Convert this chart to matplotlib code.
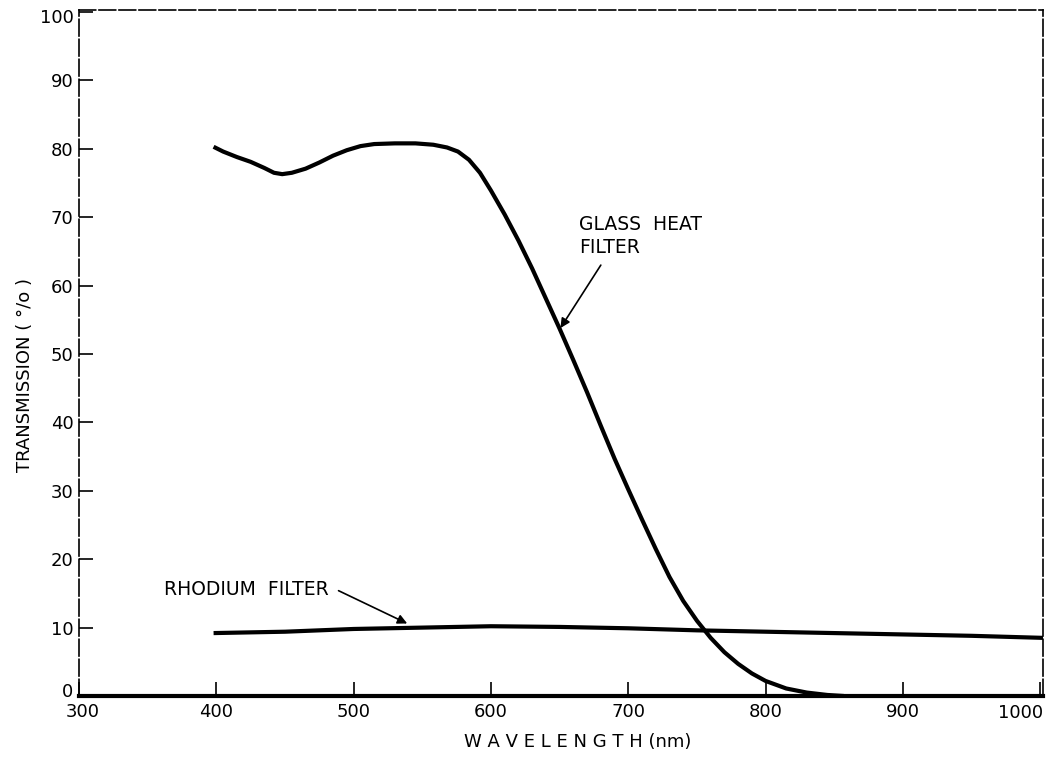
import matplotlib
matplotlib.use("Agg")
import matplotlib.pyplot as plt
import matplotlib.transforms as mtransforms

glass_wl = [398, 405, 415, 425, 435, 442, 448, 455, 465, 475, 485, 495, 505, 515, 530,
            545, 558, 568, 576, 584, 592, 600, 610, 620, 630, 640, 650, 660, 670, 680,
            690, 700, 710, 720, 730, 740, 750, 760, 770, 780, 790, 800, 815, 830, 845, 857]
glass_tr = [80.3, 79.6, 78.8, 78.1, 77.2, 76.5, 76.3, 76.5, 77.1, 78.0, 79.0, 79.8, 80.4,
            80.7, 80.8, 80.8, 80.6, 80.2, 79.6, 78.4, 76.5, 73.9, 70.4, 66.6, 62.5, 58.1,
            53.7, 49.1, 44.4, 39.5, 34.7, 30.2, 25.8, 21.5, 17.4, 13.9, 11.0, 8.5, 6.4,
            4.7, 3.3, 2.2, 1.1, 0.5, 0.15, 0.0]

rh_wl = [398, 450, 500, 550, 600, 650, 700, 750, 800, 850, 900, 950, 1002]
rh_tr = [9.2, 9.4, 9.8, 10.0, 10.2, 10.1, 9.9, 9.6, 9.4, 9.2, 9.0, 8.8, 8.5]

xticks = [300, 400, 500, 600, 700, 800, 900, 1000]
xtick_labels = ["300", "400", "500", "600", "700", "800", "900", ""]
yticks = [0, 10, 20, 30, 40, 50, 60, 70, 80, 90, 100]

W, H = 1051, 757
fig = plt.figure(figsize=(W / 100, H / 100), dpi=100)
ax = fig.add_axes([79 / W, 1 - 696 / H, (1043 - 79) / W, (696 - 10) / H])

ax.plot(glass_wl, glass_tr, color="black", lw=3, solid_capstyle="butt",
        solid_joinstyle="round")
ax.plot(rh_wl, rh_tr, color="black", lw=3, solid_capstyle="butt")

ax.set_xlim(300, 1002)
ax.set_ylim(0, 100.3)
ax.set_xticks(xticks)
ax.set_xticklabels(xtick_labels)
ax.set_yticks(yticks)
ax.tick_params(direction="in", length=10, width=1.2, labelsize=13, pad=5)
ax.tick_params(axis="y", pad=4)

for s in ["top", "right", "left"]:
    ax.spines[s].set_linewidth(1.2)
    ax.spines[s].set_linestyle((0, (10, 2)))
ax.spines["bottom"].set_linewidth(3)

fig.canvas.draw()
xl = ax.get_xticklabels()
xl[0].set_transform(xl[0].get_transform() +
                    mtransforms.ScaledTranslation(4 / 100, 0, fig.dpi_scale_trans))
yl = ax.get_yticklabels()
yl[0].set_transform(yl[0].get_transform() +
                    mtransforms.ScaledTranslation(0, 6 / 100, fig.dpi_scale_trans))
yl[-1].set_transform(yl[-1].get_transform() +
                     mtransforms.ScaledTranslation(0, -4 / 100, fig.dpi_scale_trans))

# last x tick label, right-aligned with the right spine
fig.text(1043 / W, 1 - 713 / H, str(xticks[-1]), fontsize=13, ha="right", va="center")

fig.text(578 / W, 1 - 742 / H, "W A V E L E N G T H (nm)", fontsize=13,
         ha="center", va="center")
fig.text(25 / W, 1 - 375 / H, "TRANSMISSION ( °/o )", fontsize=13,
         ha="center", va="center", rotation=90)

ax.text(664.4, 67.3, "GLASS  HEAT\nFILTER", fontsize=13.5, va="center", ha="left",
        linespacing=1.25)
ax.annotate("", xy=(650.6, 53.8), xytext=(680, 63.0),
            arrowprops=dict(arrowstyle="-|>", color="black", lw=1.2,
                            shrinkA=0, shrinkB=0, mutation_scale=14))
ax.text(361.7, 15.6, "RHODIUM  FILTER", fontsize=13.5, va="center", ha="left")
ax.annotate("", xy=(539, 10.6), xytext=(489, 15.4),
            arrowprops=dict(arrowstyle="-|>", color="black", lw=1.2,
                            shrinkA=0, shrinkB=0, mutation_scale=14))

fig.savefig("out.png", dpi=100)
